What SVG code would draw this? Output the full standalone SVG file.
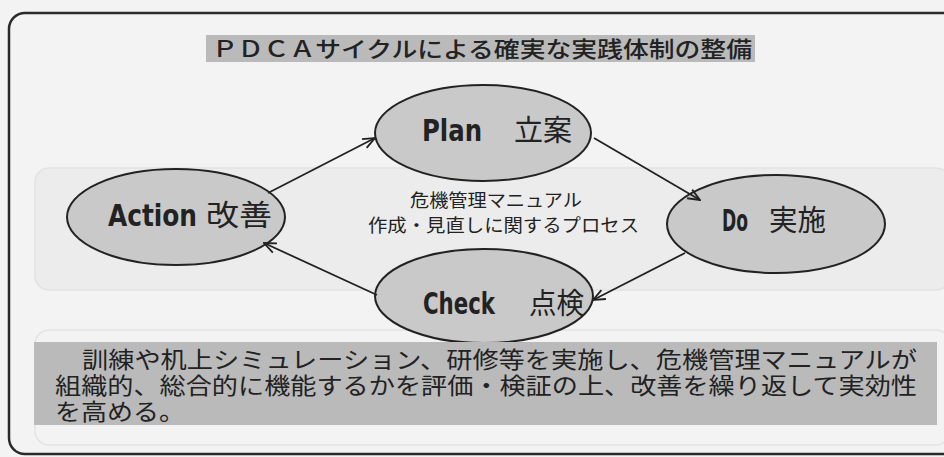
<svg xmlns="http://www.w3.org/2000/svg" width="944" height="457" viewBox="0 0 944 457">
<defs>
<style>
.bg{fill:#f3f3f3}
.faint{fill:#ececec;stroke:#e2e2e2;stroke-width:1.5}
.frame{fill:none;stroke:#2a2a2a;stroke-width:2.5}
.band{fill:#bababa}
.node ellipse{fill:#c9c9c9;stroke:#222;stroke-width:2}
.lat{font-family:"DejaVu Sans Condensed","DejaVu Sans",sans-serif;font-weight:bold;fill:#222}
.jp{font-family:"Noto Sans CJK JP",sans-serif;fill:#222}
.body{font-family:"Liberation Sans","Noto Sans CJK JP",sans-serif;fill:#222}
.conn line{stroke:#222;stroke-width:1.8}
</style>
<marker id="arr" viewBox="0 0 14 12" refX="13" refY="6" markerWidth="14" markerHeight="12" markerUnits="userSpaceOnUse" orient="auto">
<path d="M1,1 L13,6 L1,11" fill="none" stroke="#222" stroke-width="1.8"/>
</marker>
</defs>
<rect class="bg" x="0" y="0" width="944" height="457"/>
<rect class="faint" x="35" y="168" width="915" height="122" rx="14"/>
<rect x="35" y="330" width="915" height="115" rx="14" fill="none" stroke="#e4e4e4" stroke-width="1.5"/>
<rect class="frame" x="9" y="13" width="950" height="441" rx="16"/>
<g id="title">
<rect class="band" x="206" y="35" width="549" height="27"/>
<text class="jp" x="212" y="57" font-size="22" font-weight="500" textLength="540" lengthAdjust="spacingAndGlyphs">ＰＤＣＡサイクルによる確実な実践体制の整備</text>
</g>
<g id="plan" class="node">
<ellipse cx="483" cy="133" rx="108" ry="48"/>
<text class="lat" x="422" y="141" font-size="31" textLength="60" lengthAdjust="spacingAndGlyphs">Plan</text>
<text class="jp" x="514" y="141" font-size="29" textLength="58" lengthAdjust="spacingAndGlyphs">立案</text>
</g>
<g id="do" class="node">
<ellipse cx="776" cy="224" rx="109" ry="49"/>
<text class="lat" x="722" y="231" font-size="31" textLength="26" lengthAdjust="spacingAndGlyphs">Do</text>
<text class="jp" x="769" y="231" font-size="29" textLength="57" lengthAdjust="spacingAndGlyphs">実施</text>
</g>
<g id="check" class="node">
<ellipse cx="484" cy="296" rx="109" ry="47"/>
<text class="lat" x="423" y="314" font-size="31" textLength="72" lengthAdjust="spacingAndGlyphs">Check</text>
<text class="jp" x="529" y="314" font-size="29" textLength="55" lengthAdjust="spacingAndGlyphs">点検</text>
</g>
<g id="action" class="node">
<ellipse cx="176" cy="217" rx="109" ry="48"/>
<text class="lat" x="108" y="226" font-size="31" textLength="89" lengthAdjust="spacingAndGlyphs">Action</text>
<text class="jp" x="206" y="226" font-size="29" textLength="66" lengthAdjust="spacingAndGlyphs">改善</text>
</g>
<g id="conn" class="conn">
<line x1="268" y1="193" x2="375" y2="138" marker-end="url(#arr)"/>
<line x1="594" y1="138" x2="700" y2="200" marker-end="url(#arr)"/>
<line x1="685" y1="253" x2="593" y2="300" marker-end="url(#arr)"/>
<line x1="377" y1="295" x2="264" y2="243" marker-end="url(#arr)"/>
</g>
<g id="center-label">
<text class="jp" x="410" y="207" font-size="18" textLength="172" lengthAdjust="spacingAndGlyphs">危機管理マニュアル</text>
<text class="jp" x="368" y="232" font-size="18" textLength="271" lengthAdjust="spacingAndGlyphs">作成・見直しに関するプロセス</text>
</g>
<g id="summary">
<rect class="band" x="34" y="342" width="903" height="83"/>
<text class="body" x="82" y="368" font-size="23" textLength="835" lengthAdjust="spacingAndGlyphs">訓練や机上シミュレーション、研修等を実施し、危機管理マニュアルが</text>
<text class="body" x="55" y="394" font-size="23" textLength="862" lengthAdjust="spacingAndGlyphs">組織的、総合的に機能するかを評価・検証の上、改善を繰り返して実効性</text>
<text class="body" x="55" y="420" font-size="23" textLength="130" lengthAdjust="spacingAndGlyphs">を高める。</text>
</g>
</svg>
